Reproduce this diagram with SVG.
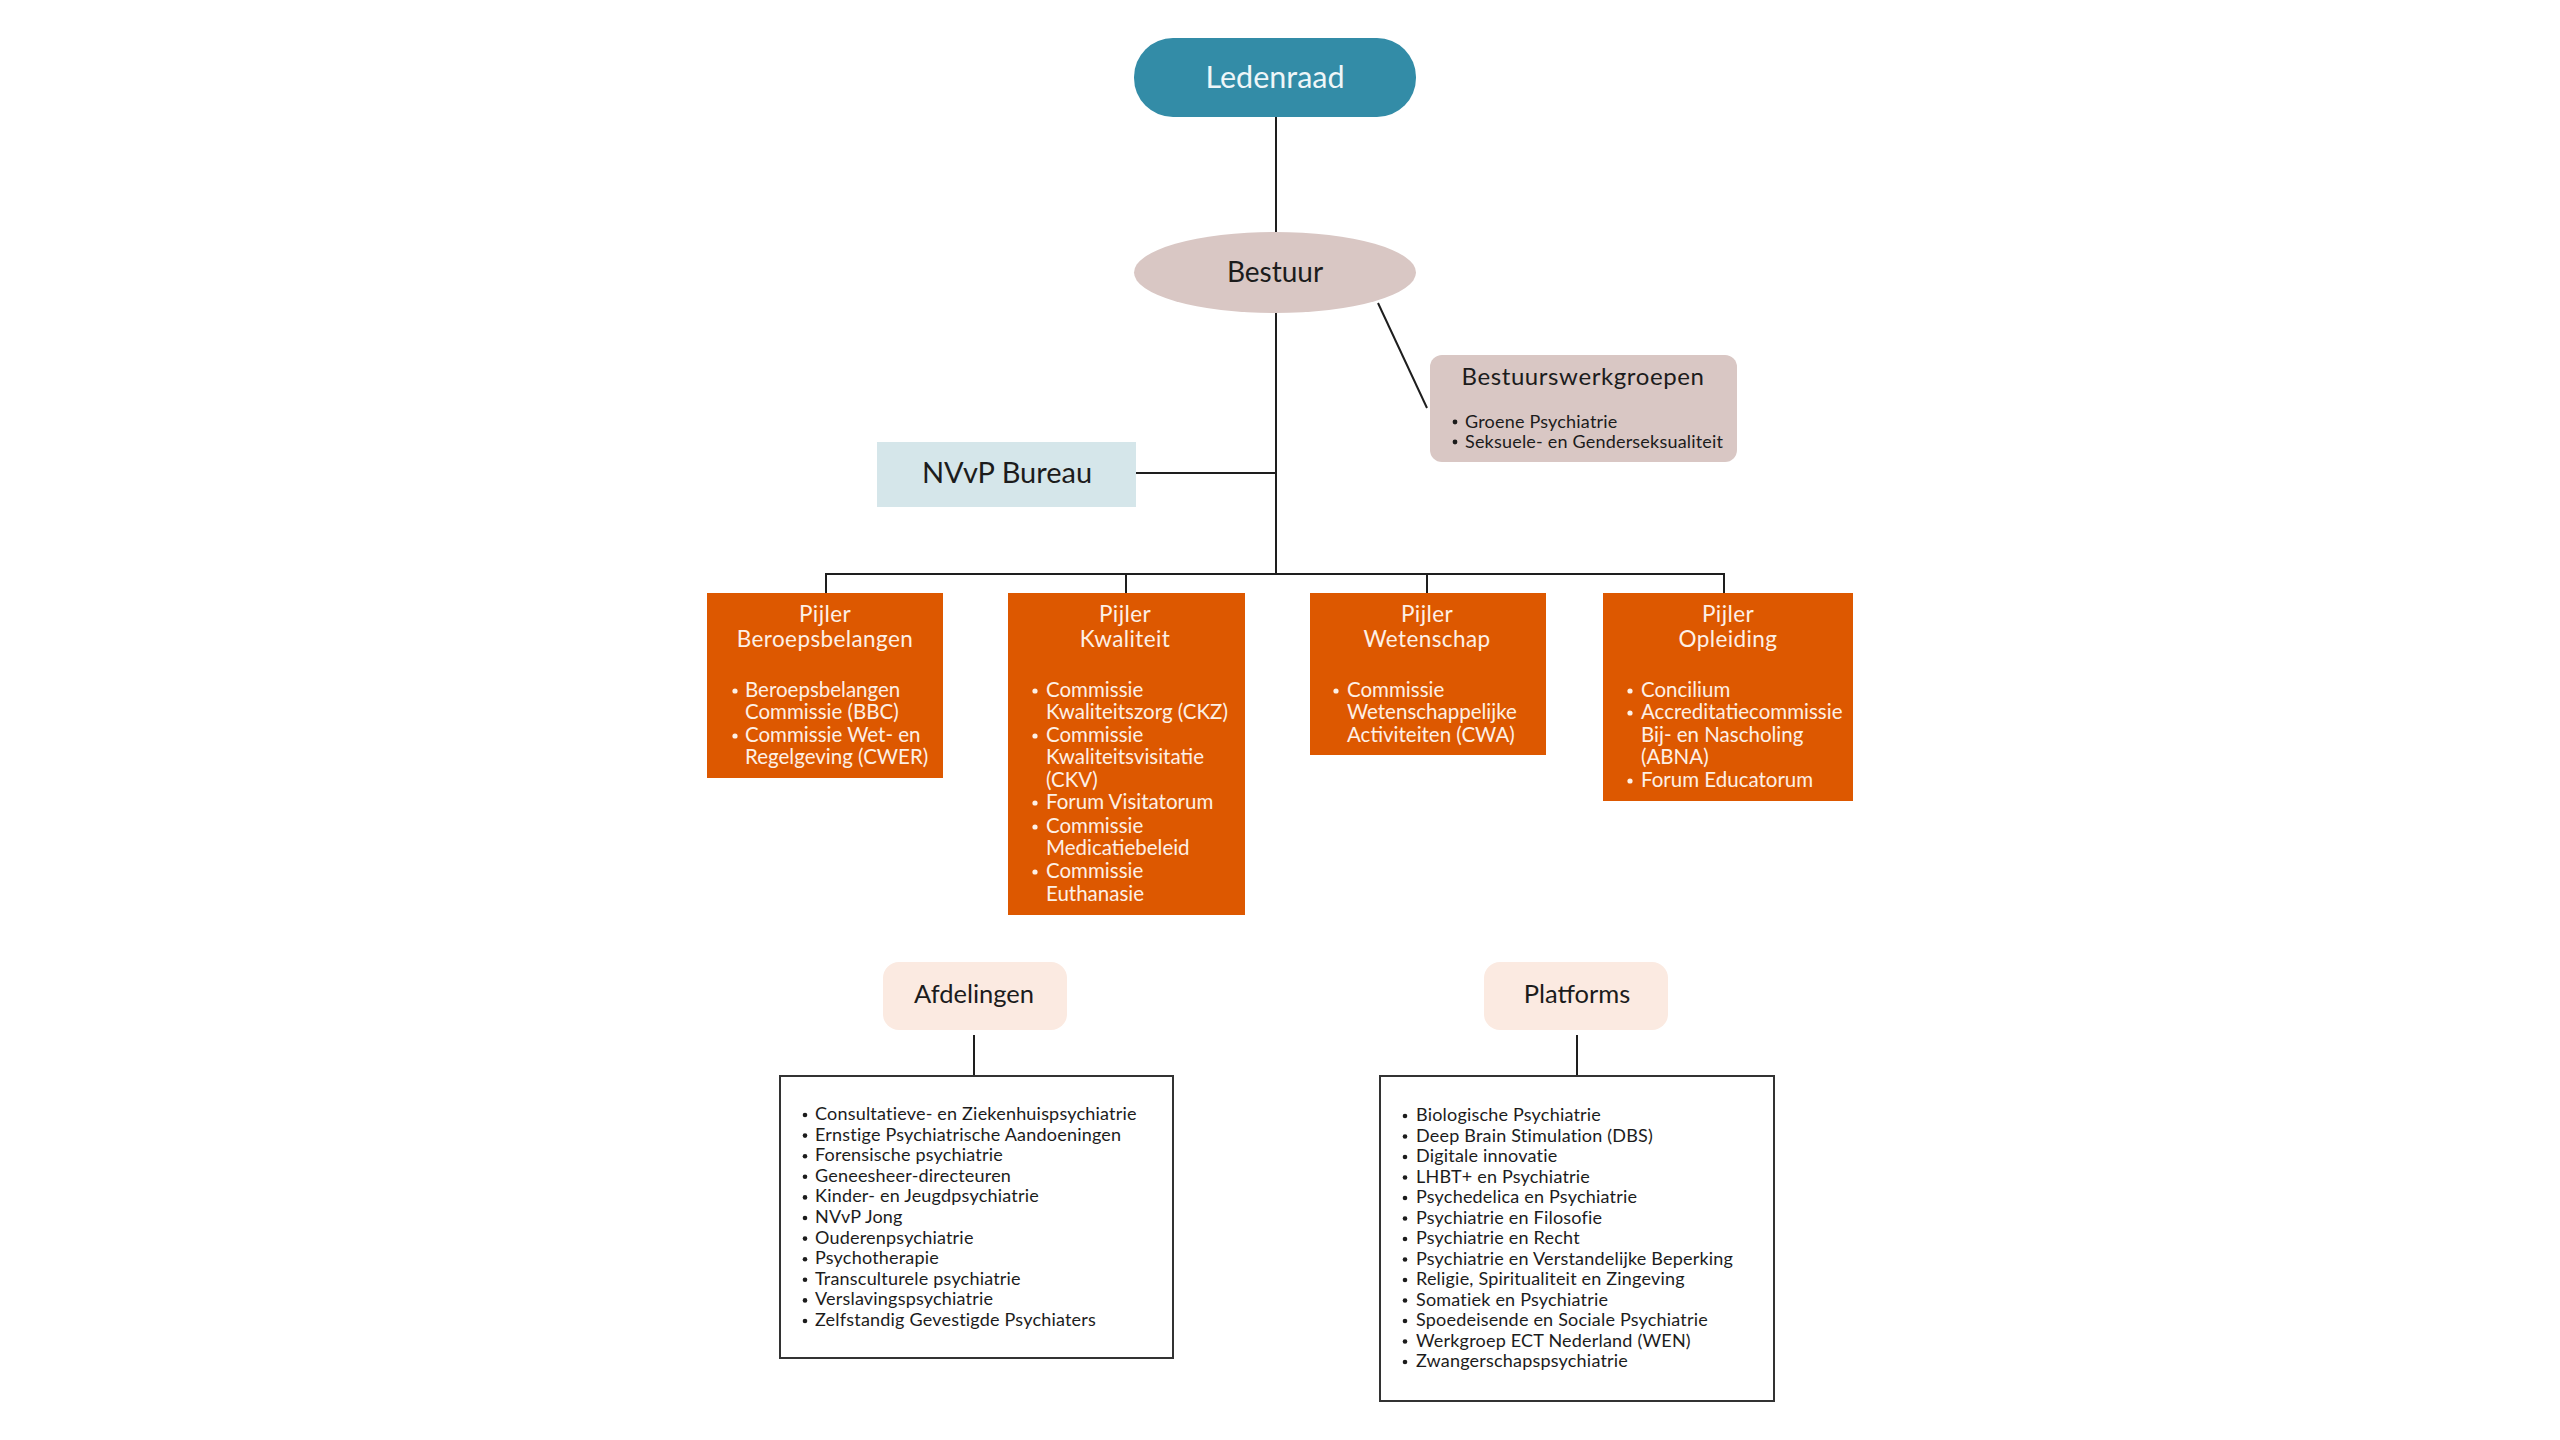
<svg xmlns="http://www.w3.org/2000/svg" width="2560" height="1440" viewBox="0 0 2560 1440">
<style>
text{font-family:Lato,"Open Sans","Liberation Sans",sans-serif}
.dark{fill:#1c1c1c}
.pt{fill:#fdf0e6;font-size:22.5px;letter-spacing:0.4px;text-anchor:middle}
.pi{fill:#fdf0e6;font-size:20.5px}
.pb{fill:#fdf0e6}
.li{fill:#1c1c1c;font-size:18px;letter-spacing:0.2px}
.lb{fill:#1c1c1c}
.conn{stroke:#1e1e1e;stroke-width:2;fill:none}
.pillar{fill:#dd5800}
</style>
<rect width="2560" height="1440" fill="#ffffff"/>
<g id="connectors">
<line class="conn" x1="1276" y1="117" x2="1276" y2="232"/>
<line class="conn" x1="1276" y1="313" x2="1276" y2="575"/>
<line class="conn" x1="1136" y1="473" x2="1276" y2="473"/>
<line class="conn" x1="1378" y1="303" x2="1427" y2="408"/>
<polyline class="conn" points="826,593 826,574 1724,574 1724,593"/>
<line class="conn" x1="1126" y1="574" x2="1126" y2="593"/>
<line class="conn" x1="1427" y1="574" x2="1427" y2="593"/>
<line class="conn" x1="974" y1="1035" x2="974" y2="1076"/>
<line class="conn" x1="1577" y1="1035" x2="1577" y2="1076"/>
</g>
<g id="ledenraad">
<rect x="1134" y="38" width="282" height="79" rx="39" fill="#338ca7"/>
<text x="1275" y="88" font-size="30.5" text-anchor="middle" fill="#eef6f8">Ledenraad</text>
</g>
<g id="bestuur">
<ellipse cx="1275" cy="272.5" rx="141" ry="40.5" fill="#d9c7c4"/>
<text x="1275" y="282" font-size="28" text-anchor="middle" class="dark">Bestuur</text>
</g>
<g id="bestuurswerkgroepen">
<rect x="1430" y="355" width="307" height="107" rx="12" fill="#d9c7c4"/>
<text x="1583" y="385" font-size="24" letter-spacing="0.6" text-anchor="middle" class="dark">Bestuurswerkgroepen</text>
<circle class="lb" cx="1455" cy="422" r="2.4"/>
<circle class="lb" cx="1455" cy="442" r="2.4"/>
<text class="li" x="1465" y="428">Groene Psychiatrie</text>
<text class="li" x="1465" y="448">Seksuele- en Genderseksualiteit</text>
</g>
<g id="nvvp-bureau">
<rect x="877" y="442" width="259" height="65" fill="#d5e6ea"/>
<text x="1007" y="483" font-size="29" text-anchor="middle" class="dark">NVvP Bureau</text>
</g>
<g id="pijler-beroepsbelangen">
<rect class="pillar" x="707" y="593" width="236" height="185"/>
<text class="pt" x="825" y="622">Pijler</text>
<text class="pt" x="825" y="647">Beroepsbelangen</text>
<circle class="pb" cx="735" cy="691" r="2.6"/>
<circle class="pb" cx="735" cy="736" r="2.6"/>
<text class="pi" x="745" y="697">Beroepsbelangen</text>
<text class="pi" x="745" y="719">Commissie (BBC)</text>
<text class="pi" x="745" y="742">Commissie Wet- en</text>
<text class="pi" x="745" y="764">Regelgeving (CWER)</text>
</g>
<g id="pijler-kwaliteit">
<rect class="pillar" x="1008" y="593" width="237" height="322"/>
<text class="pt" x="1125" y="622">Pijler</text>
<text class="pt" x="1125" y="647">Kwaliteit</text>
<circle class="pb" cx="1035" cy="691" r="2.6"/>
<circle class="pb" cx="1035" cy="736" r="2.6"/>
<circle class="pb" cx="1035" cy="803" r="2.6"/>
<circle class="pb" cx="1035" cy="827" r="2.6"/>
<circle class="pb" cx="1035" cy="872" r="2.6"/>
<text class="pi" x="1046" y="697">Commissie</text>
<text class="pi" x="1046" y="719">Kwaliteitszorg (CKZ)</text>
<text class="pi" x="1046" y="742">Commissie</text>
<text class="pi" x="1046" y="764">Kwaliteitsvisitatie</text>
<text class="pi" x="1046" y="787">(CKV)</text>
<text class="pi" x="1046" y="809">Forum Visitatorum</text>
<text class="pi" x="1046" y="833">Commissie</text>
<text class="pi" x="1046" y="855">Medicatiebeleid</text>
<text class="pi" x="1046" y="878">Commissie</text>
<text class="pi" x="1046" y="901">Euthanasie</text>
</g>
<g id="pijler-wetenschap">
<rect class="pillar" x="1310" y="593" width="236" height="162"/>
<text class="pt" x="1427" y="622">Pijler</text>
<text class="pt" x="1427" y="647">Wetenschap</text>
<circle class="pb" cx="1336" cy="691" r="2.6"/>
<text class="pi" x="1347" y="697">Commissie</text>
<text class="pi" x="1347" y="719">Wetenschappelijke</text>
<text class="pi" x="1347" y="742">Activiteiten (CWA)</text>
</g>
<g id="pijler-opleiding">
<rect class="pillar" x="1603" y="593" width="250" height="208"/>
<text class="pt" x="1728" y="622">Pijler</text>
<text class="pt" x="1728" y="647">Opleiding</text>
<circle class="pb" cx="1630" cy="691" r="2.6"/>
<circle class="pb" cx="1630" cy="713" r="2.6"/>
<circle class="pb" cx="1630" cy="781" r="2.6"/>
<text class="pi" x="1641" y="697">Concilium</text>
<text class="pi" x="1641" y="719">Accreditatiecommissie</text>
<text class="pi" x="1641" y="742">Bij- en Nascholing</text>
<text class="pi" x="1641" y="764">(ABNA)</text>
<text class="pi" x="1641" y="787">Forum Educatorum</text>
</g>
<g id="afdelingen">
<rect x="883" y="962" width="184" height="68" rx="16" fill="#fbeae1"/>
<text x="974" y="1003" font-size="25.5" text-anchor="middle" class="dark">Afdelingen</text>
</g>
<g id="afdelingen-lijst">
<rect x="780" y="1076" width="393" height="282" fill="#ffffff" stroke="#333333" stroke-width="2"/>
<g class="lb">
<circle cx="805" cy="1115" r="2.3"/><circle cx="805" cy="1135.6" r="2.3"/><circle cx="805" cy="1156.2" r="2.3"/><circle cx="805" cy="1176.8" r="2.3"/><circle cx="805" cy="1197.4" r="2.3"/><circle cx="805" cy="1218" r="2.3"/><circle cx="805" cy="1238.6" r="2.3"/><circle cx="805" cy="1259.2" r="2.3"/><circle cx="805" cy="1279.8" r="2.3"/><circle cx="805" cy="1300.4" r="2.3"/><circle cx="805" cy="1321" r="2.3"/>
</g>
<text class="li" x="815" y="1120">Consultatieve- en Ziekenhuispsychiatrie</text>
<text class="li" x="815" y="1140.6">Ernstige Psychiatrische Aandoeningen</text>
<text class="li" x="815" y="1161.2">Forensische psychiatrie</text>
<text class="li" x="815" y="1181.8">Geneesheer-directeuren</text>
<text class="li" x="815" y="1202.4">Kinder- en Jeugdpsychiatrie</text>
<text class="li" x="815" y="1223">NVvP Jong</text>
<text class="li" x="815" y="1243.6">Ouderenpsychiatrie</text>
<text class="li" x="815" y="1264.2">Psychotherapie</text>
<text class="li" x="815" y="1284.8">Transculturele psychiatrie</text>
<text class="li" x="815" y="1305.4">Verslavingspsychiatrie</text>
<text class="li" x="815" y="1326">Zelfstandig Gevestigde Psychiaters</text>
</g>
<g id="platforms">
<rect x="1484" y="962" width="184" height="68" rx="16" fill="#fbeae1"/>
<text x="1577" y="1003" font-size="25.5" text-anchor="middle" class="dark">Platforms</text>
</g>
<g id="platforms-lijst">
<rect x="1380" y="1076" width="394" height="325" fill="#ffffff" stroke="#333333" stroke-width="2"/>
<g class="lb">
<circle cx="1405" cy="1116" r="2.3"/><circle cx="1405" cy="1136.5" r="2.3"/><circle cx="1405" cy="1157" r="2.3"/><circle cx="1405" cy="1177.5" r="2.3"/><circle cx="1405" cy="1198" r="2.3"/><circle cx="1405" cy="1218.5" r="2.3"/><circle cx="1405" cy="1239" r="2.3"/><circle cx="1405" cy="1259.5" r="2.3"/><circle cx="1405" cy="1280" r="2.3"/><circle cx="1405" cy="1300.5" r="2.3"/><circle cx="1405" cy="1321" r="2.3"/><circle cx="1405" cy="1341.5" r="2.3"/><circle cx="1405" cy="1362" r="2.3"/>
</g>
<text class="li" x="1416" y="1121">Biologische Psychiatrie</text>
<text class="li" x="1416" y="1141.5">Deep Brain Stimulation (DBS)</text>
<text class="li" x="1416" y="1162">Digitale innovatie</text>
<text class="li" x="1416" y="1182.5">LHBT+ en Psychiatrie</text>
<text class="li" x="1416" y="1203">Psychedelica en Psychiatrie</text>
<text class="li" x="1416" y="1223.5">Psychiatrie en Filosofie</text>
<text class="li" x="1416" y="1244">Psychiatrie en Recht</text>
<text class="li" x="1416" y="1264.5">Psychiatrie en Verstandelijke Beperking</text>
<text class="li" x="1416" y="1285">Religie, Spiritualiteit en Zingeving</text>
<text class="li" x="1416" y="1305.5">Somatiek en Psychiatrie</text>
<text class="li" x="1416" y="1326">Spoedeisende en Sociale Psychiatrie</text>
<text class="li" x="1416" y="1346.5">Werkgroep ECT Nederland (WEN)</text>
<text class="li" x="1416" y="1367">Zwangerschapspsychiatrie</text>
</g>
</svg>
